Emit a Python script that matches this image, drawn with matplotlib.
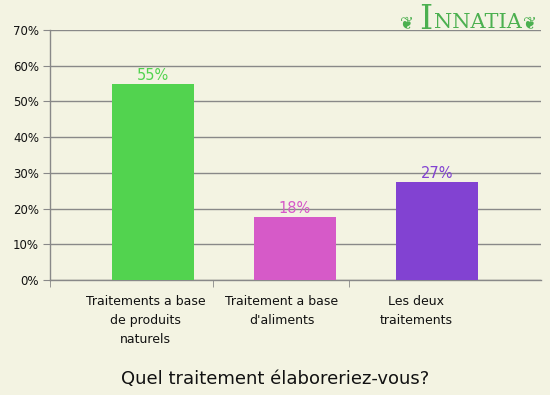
import matplotlib
matplotlib.use("Agg")
from matplotlib import pyplot as plt

# Données du graphique
categories = ["Traitements a base\nde produits\nnaturels",
              "Traitement a base\nd'aliments",
              "Les deux\ntraitements"]
valeurs = [54.9, 17.6, 27.4]
couleurs = ["#52d34f", "#d65ac8", "#8242d2"]
titre = "Quel traitement élaboreriez-vous?"

fond = "#f3f3e2"
gris = "#888888"

fig = plt.figure(figsize=(5.5, 3.95), dpi=100, facecolor=fond)
ax = fig.add_axes([50 / 550, 115 / 395, 491 / 550, 250 / 395])
ax.set_facecolor(fond)

x = range(len(valeurs))
ax.bar(x, valeurs, width=0.575, color=couleurs, zorder=3)

# Étiquettes de valeur
for i, v in enumerate(valeurs):
    ax.text(i, v + 0.4, f"{round(v)}%", ha="center", va="bottom",
            color=couleurs[i], fontsize=10.5, zorder=4)

ax.set_xlim(-0.709, 2.734)
ax.set_ylim(0, 70)
ax.set_yticks(range(0, 71, 10))
ax.set_yticklabels([f"{t}%" for t in range(0, 71, 10)], fontsize=8.5)
ax.yaxis.grid(True, color=gris, linewidth=1, zorder=0)
ax.tick_params(axis="y", length=5, color=gris, pad=3, labelcolor="#111111")

# Étiquettes des catégories (décalées comme dans l'original)
ax.set_xticks([-0.048, 0.907, 1.852])
ax.set_xticklabels(categories, fontsize=9, linespacing=1.6)
ax.tick_params(axis="x", length=0, pad=11, labelcolor="#111111")
ax.set_xticks([-0.723, 0.428, 1.382], minor=True)
ax.tick_params(axis="x", which="minor", length=5, color=gris, direction="out")

for s in ["top", "right"]:
    ax.spines[s].set_visible(False)
for s in ["left", "bottom"]:
    ax.spines[s].set_color(gris)
    ax.spines[s].set_linewidth(1)

fig.text(0.5, 1 - 379 / 395, titre, ha="center", va="center",
         fontsize=13, color="#111111")

# Logo
vert = "#4cb050"
fig.text(426 / 550, 1 - 20 / 395, "I", ha="center", va="center",
         fontsize=24, color=vert, family="DejaVu Serif")
fig.text(478 / 550, 1 - 23 / 395, "NNATIA", ha="center", va="center",
         fontsize=15, color=vert, family="DejaVu Serif")
fig.text(407 / 550, 1 - 23 / 395, "❦", ha="center", va="center",
         fontsize=12, color=vert, family="DejaVu Sans")
fig.text(530 / 550, 1 - 23 / 395, "❦", ha="center", va="center",
         fontsize=12, color=vert, family="DejaVu Sans")

plt.savefig("out.png", dpi=100, facecolor=fond)
